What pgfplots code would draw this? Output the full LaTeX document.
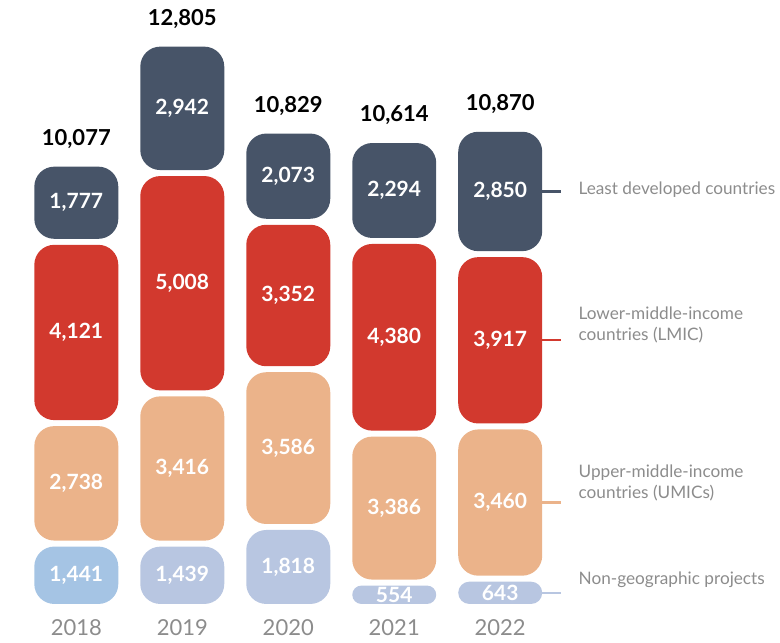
\documentclass[border=0pt]{standalone}
\usepackage{fontspec}
\setmainfont{Lato}
\usepackage{pgfplots}
\usepackage{pgfplotstable}
\pgfplotsset{compat=1.18}

\definecolor{ldc}{HTML}{475468}
\definecolor{lmic}{HTML}{D2392E}
\definecolor{umic}{HTML}{EBB38A}
\definecolor{ngeoA}{HTML}{A5C4E4}
\definecolor{ngeo}{HTML}{B8C6E1}
\definecolor{labelgray}{HTML}{8C8C8C}

% ng = non-geographic projects (ngeoA / ngeo only split the colour of 2018)
\pgfplotstableread{
x year ng   ngeoA ngeo umic lmic ldc total
0 2018 1441 1441  0    2738 4121 1777 10077
1 2019 1439 0     1439 3416 5008 2942 12805
2 2020 1818 0     1818 3586 3352 2073 10829
3 2021 554  0     554  3386 4380 2294 10614
4 2022 643  0     643  3460 3917 2850 10870
}\data

% rounded segment, centred on the point; \segval = segment value, 0.022pt per unit
% (open path from mid-bottom back to mid-bottom, so all four corners are rounded)
\newdimen\barhh
\newdimen\barrr
\pgfdeclareplotmark{rbar}{%
  \pgfmathsetlength\barhh{\segval*0.011pt-1.5pt}%
  \pgfmathsetlength\barrr{min(10pt,\barhh)}%
  \pgfsetcornersarced{\pgfqpoint{\barrr}{\barrr}}%
  \pgfpathmoveto{\pgfqpoint{0pt}{-\barhh}}%
  \pgfpathlineto{\pgfqpoint{21pt}{-\barhh}}%
  \pgfpathlineto{\pgfqpoint{21pt}{\barhh}}%
  \pgfpathlineto{\pgfqpoint{-21pt}{\barhh}}%
  \pgfpathlineto{\pgfqpoint{-21pt}{-\barhh}}%
  \pgfpathlineto{\pgfqpoint{0pt}{-\barhh}}%
  \pgfusepath{fill}%
}

\pgfplotsset{
  seg/.style={only marks, mark=rbar, mark options={fill=#1, draw=none},
    visualization depends on={\thisrow{#1} \as \segval}},
  lab/.style={only marks, mark=none, nodes near coords, point meta=explicit},
}

\begin{document}
\begin{tikzpicture}
\begin{axis}[
  x=53pt, y=0.022pt,
  xmin=-0.72, xmax=6.64, ymin=-750, ymax=13797, clip=false,
  axis line style={draw=none}, major tick length=0pt,
  xtick=\empty, ytick=\empty,
  /pgf/number format/fixed, /pgf/number format/precision=0,
  /pgf/number format/1000 sep={,},
  /pgf/number format/assume math mode=true,
  every node near coord/.append style={anchor=center, text=white,
    font=\bfseries\fontsize{10.5}{12}\selectfont},
]
% segments, bottom to top
\addplot[seg=ngeoA, skip coords between index={1}{5}]
  table[x=x, y expr={\thisrow{ng}/2}] {\data};
\addplot[seg=ngeo, skip coords between index={0}{1}]
  table[x=x, y expr={\thisrow{ng}/2}] {\data};
\addplot[seg=umic]
  table[x=x, y expr={\thisrow{ng}+\thisrow{umic}/2}] {\data};
\addplot[seg=lmic]
  table[x=x, y expr={\thisrow{ng}+\thisrow{umic}+\thisrow{lmic}/2}] {\data};
\addplot[seg=ldc]
  table[x=x, y expr={\thisrow{ng}+\thisrow{umic}+\thisrow{lmic}+\thisrow{ldc}/2}] {\data};

% values inside the segments
\addplot[lab] table[x=x, meta=ng,
  y expr={\thisrow{ng}/2}] {\data};
\addplot[lab] table[x=x, meta=umic,
  y expr={\thisrow{ng}+\thisrow{umic}/2}] {\data};
\addplot[lab] table[x=x, meta=lmic,
  y expr={\thisrow{ng}+\thisrow{umic}+\thisrow{lmic}/2}] {\data};
\addplot[lab] table[x=x, meta=ldc,
  y expr={\thisrow{ng}+\thisrow{umic}+\thisrow{lmic}+\thisrow{ldc}/2}] {\data};

% totals and years
\addplot[lab,
  every node near coord/.append style={anchor=south, yshift=4pt, text=black,
    font=\bfseries\fontsize{11}{13}\selectfont}]
  table[x=x, y=total, meta=total] {\data};
\addplot[only marks, mark=none, nodes near coords, point meta=explicit symbolic,
  every node near coord/.append style={text=labelgray,
    font=\fontsize{11}{13}\selectfont}]
  table[x=x, y expr=-470, meta=year] {\data};

% category labels on the right
\draw[ldc,  line width=1.2pt] (axis cs:4.39,9445) -- (axis cs:4.57,9445);
\draw[lmic, line width=1.2pt] (axis cs:4.39,6062) -- (axis cs:4.57,6062);
\draw[umic, line width=1.2pt] (axis cs:4.39,2373) -- (axis cs:4.57,2373);
\draw[ngeo, line width=1.2pt] (axis cs:4.39,322)  -- (axis cs:4.57,322);
\begin{scope}[every node/.style={anchor=west, align=left, text=labelgray,
    inner sep=0pt, overlay, font=\fontsize{8.6}{10.8}\selectfont}]
\node at (axis cs:4.736,9479) {Least developed countries};
\node at (axis cs:4.736,6410) {Lower-middle-income\\countries (LMIC)};
\node at (axis cs:4.736,2818) {Upper-middle-income\\countries (UMICs)};
\node at (axis cs:4.736,614)  {Non-geographic projects};
\end{scope}
\end{axis}
\path (current axis.south west) rectangle (current axis.north east);
\end{tikzpicture}
\end{document}
